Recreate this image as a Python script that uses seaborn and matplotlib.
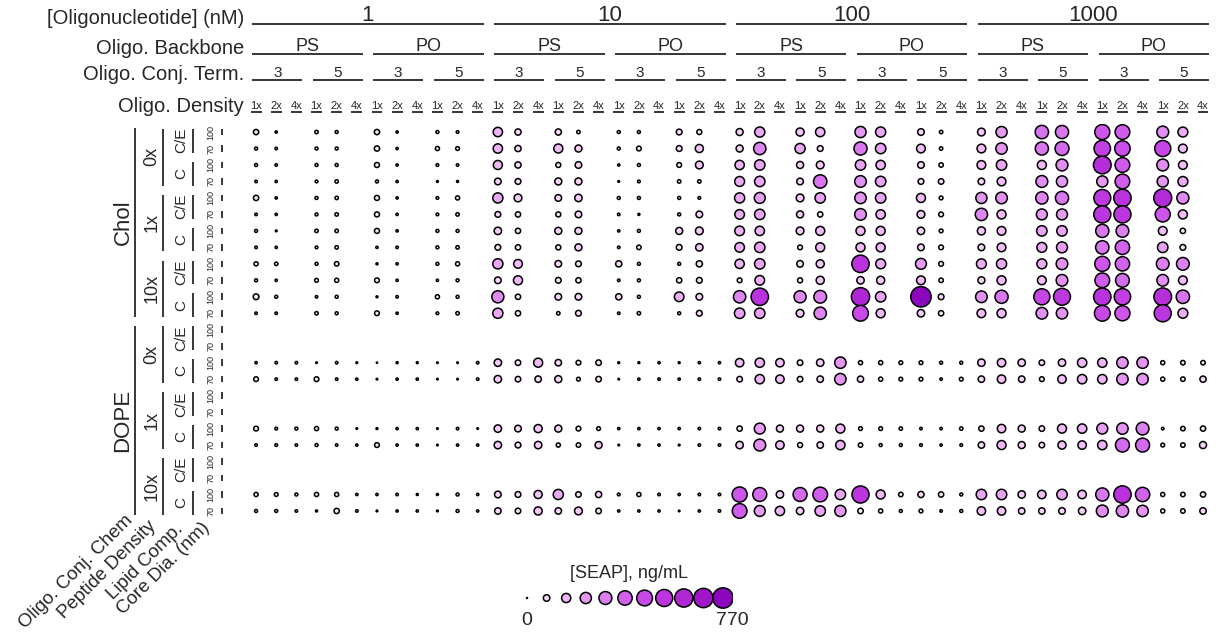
import pandas as pd
import seaborn as sns
import matplotlib.pyplot as plt
from matplotlib.colors import LinearSegmentedColormap

W, H = 1218, 634

concentrations = ["1", "10", "100", "1000"]
backbones = ["PS", "PO"]
conj_terms = ["3", "5"]
oligo_densities = ["1x", "2x", "4x"]
conj_chems = ["Chol", "DOPE"]
peptide_densities = ["0x", "1x", "10x"]
lipid_comps = ["C/E", "C"]
core_dias = ["100", "70"]

# Chol formulations, SEAP in ng/mL
# rows: 0x C/E 100, 0x C/E 70, 0x C 100, 0x C 70, 1x ..., 10x ...
# cols: PS-3 1x, PS-3 2x, PS-5 1x, PS-5 2x, PO-3 1x, PO-3 2x, PO-5 1x, PO-5 2x
chol_1nM = [
    [50, 8, 20, 15, 50, 8, 15, 12],
    [15, 10, 15, 15, 50, 8, 30, 25],
    [15, 10, 15, 15, 45, 8, 12, 10],
    [10, 8, 12, 20, 15, 8, 5, 6],
    [50, 8, 15, 20, 45, 8, 12, 30],
    [10, 8, 15, 20, 45, 8, 12, 20],
    [15, 4, 20, 20, 45, 8, 15, 15],
    [10, 8, 12, 20, 8, 10, 15, 20],
    [30, 20, 15, 35, 6, 8, 15, 30],
    [15, 8, 25, 30, 40, 8, 8, 15],
    [60, 15, 10, 15, 5, 10, 30, 15],
    [10, 10, 20, 15, 40, 8, 12, 20],
]
chol_10nM = [
    [160, 70, 70, 20, 15, 15, 60, 45],
    [160, 70, 150, 90, 15, 40, 60, 120],
    [150, 70, 45, 80, 8, 15, 40, 110],
    [80, 60, 90, 90, 4, 12, 20, 20],
    [190, 110, 80, 100, 15, 15, 15, 12],
    [60, 50, 45, 80, 10, 6, 15, 80],
    [100, 50, 90, 90, 8, 15, 90, 110],
    [60, 50, 45, 90, 10, 35, 60, 100],
    [190, 140, 80, 60, 70, 15, 15, 70],
    [80, 150, 60, 50, 10, 15, 50, 60],
    [270, 50, 80, 80, 70, 15, 170, 80],
    [190, 50, 20, 60, 10, 20, 15, 60],
]
chol_100nM = [
    [90, 190, 120, 160, 230, 190, 80, 20],
    [90, 280, 190, 60, 320, 200, 140, 20],
    [160, 200, 90, 110, 200, 160, 80, 35],
    [180, 200, 80, 330, 250, 200, 60, 55],
    [190, 220, 110, 200, 240, 200, 150, 25],
    [170, 200, 90, 50, 250, 160, 110, 40],
    [170, 160, 110, 150, 150, 150, 100, 25],
    [170, 200, 40, 150, 150, 150, 80, 40],
    [160, 200, 80, 120, 560, 180, 220, 40],
    [40, 170, 45, 120, 100, 120, 140, 35],
    [280, 560, 270, 300, 620, 200, 770, 60],
    [200, 200, 110, 280, 460, 150, 100, 50],
]
chol_1000nM = [
    [110, 230, 330, 320, 420, 400, 260, 180],
    [140, 240, 320, 360, 500, 440, 480, 140],
    [140, 200, 150, 260, 580, 400, 260, 140],
    [80, 140, 260, 230, 230, 400, 230, 180],
    [230, 250, 280, 320, 530, 560, 600, 270],
    [280, 150, 220, 220, 540, 540, 420, 150],
    [120, 140, 200, 200, 320, 300, 140, 50],
    [80, 140, 180, 220, 330, 380, 200, 60],
    [180, 190, 180, 250, 420, 380, 300, 300],
    [90, 150, 140, 250, 400, 350, 250, 140],
    [250, 320, 480, 530, 560, 500, 580, 330],
    [140, 150, 250, 240, 460, 420, 540, 180],
]

# DOPE formulations (lipid comp C only)
# rows: 0x 100, 0x 70, 1x 100, 1x 70, 10x 100, 10x 70
# cols: PS-3 1x 2x 4x, PS-5 ..., PO-3 ..., PO-5 ...
dope_1nM = [
    [8, 10, 10, 3, 10, 4, 1, 6, 5, 3, 3, 10],
    [40, 10, 10, 40, 10, 8, 3, 8, 8, 3, 3, 10],
    [40, 12, 15, 30, 15, 3, 5, 8, 8, 3, 10, 3],
    [10, 12, 10, 15, 10, 8, 40, 8, 8, 3, 8, 8],
    [30, 25, 15, 30, 30, 8, 8, 10, 6, 6, 15, 8],
    [15, 15, 10, 6, 50, 10, 4, 8, 8, 4, 15, 8],
]
dope_10nM = [
    [100, 55, 150, 75, 40, 55, 5, 5, 8, 5, 8, 8],
    [100, 55, 75, 90, 25, 55, 3, 8, 10, 8, 10, 10],
    [100, 80, 120, 90, 40, 25, 8, 8, 8, 8, 10, 10],
    [100, 60, 100, 30, 35, 90, 3, 8, 8, 4, 10, 10],
    [80, 60, 120, 190, 55, 70, 12, 30, 10, 8, 10, 10],
    [75, 55, 120, 75, 110, 55, 8, 8, 8, 3, 8, 10],
]
dope_100nM = [
    [130, 160, 130, 55, 100, 240, 30, 30, 25, 25, 15, 15],
    [55, 160, 130, 55, 75, 240, 70, 30, 25, 25, 10, 25],
    [50, 220, 90, 90, 90, 150, 25, 25, 20, 10, 10, 20],
    [100, 260, 130, 45, 75, 160, 35, 15, 15, 12, 8, 12],
    [420, 360, 100, 360, 400, 200, 540, 150, 35, 70, 50, 15],
    [400, 220, 160, 100, 200, 230, 55, 30, 15, 25, 10, 15],
]
dope_1000nM = [
    [100, 130, 100, 55, 100, 160, 160, 240, 240, 30, 35, 35],
    [75, 130, 75, 40, 130, 160, 160, 240, 240, 30, 35, 70],
    [50, 130, 90, 55, 150, 160, 220, 240, 300, 10, 35, 50],
    [75, 150, 90, 55, 120, 130, 160, 360, 360, 25, 35, 90],
    [200, 200, 100, 130, 200, 130, 320, 560, 380, 30, 35, 50],
    [130, 130, 75, 75, 80, 100, 260, 280, 240, 30, 35, 75],
]

legend_values = [0, 77, 154, 231, 308, 385, 462, 539, 616, 693, 770]
SEAP_MAX = 770

chol_tables = [chol_1nM, chol_10nM, chol_100nM, chol_1000nM]
dope_tables = [dope_1nM, dope_10nM, dope_100nM, dope_1000nM]


def build_frame():
    recs = []
    for ci, table in enumerate(chol_tables):
        for r, vals in enumerate(table):
            k = 0
            for bi in range(2):
                for ti in range(2):
                    for di in range(2):
                        col = ci * 12 + bi * 6 + ti * 3 + di
                        recs.append((col, r, vals[k]))
                        k += 1
    for ci, table in enumerate(dope_tables):
        for r, vals in enumerate(table):
            pep, dia = divmod(r, 2)
            row = 12 + pep * 4 + 2 + dia
            k = 0
            for bi in range(2):
                for ti in range(2):
                    for di in range(3):
                        col = ci * 12 + bi * 6 + ti * 3 + di
                        recs.append((col, row, vals[k]))
                        k += 1
    return pd.DataFrame(recs, columns=["col", "row", "seap"])


def fig_box(left, top, right, bottom):
    return [left / W, 1 - bottom / H, (right - left) / W, (bottom - top) / H]


def seg(ax, xs, ys):
    ax.plot(xs, ys, color="black", lw=1.1, clip_on=False,
            solid_capstyle="butt")


sns.set_style("white")
plt.rcParams["font.family"] = ["Liberation Sans", "DejaVu Sans"]

cmap = LinearSegmentedColormap.from_list(
    "seap", ["#fff4ff", "#f2c8f6", "#e59cf1", "#d874ee", "#ca4ee9",
             "#bb34de", "#a91fd0", "#8b06bd"])
point_kw = dict(hue="seap", size="seap", palette=cmap,
                hue_norm=(0, SEAP_MAX), sizes=(0.5, 215),
                size_norm=(0, SEAP_MAX), edgecolor="black",
                linewidth=1.1, legend=False)

df = build_frame()

fig = plt.figure(figsize=(W / 100, H / 100), dpi=100)
ax = fig.add_axes(fig_box(246, 123.8, 1213.1, 519.2))
sns.scatterplot(data=df, x="col", y="row", ax=ax, **point_kw)
ax.set_xlim(-0.5, 47.5)
ax.set_ylim(23.5, -0.5)
ax.axis("off")

# column headers
lab_x = -0.6
level_names = ["[Oligonucleotide] (nM)", "Oligo. Backbone",
               "Oligo. Conj. Term.", "Oligo. Density"]
line_y = [-6.55, -4.73, -3.16, -1.21]
for name, y in zip(level_names, line_y):
    ax.text(lab_x, y, name, ha="right", va="baseline", fontsize=14.5)

for ci, conc in enumerate(concentrations):
    c0 = ci * 12
    seg(ax, [c0 - 0.18, c0 + 11.3], [line_y[0]] * 2)
    ax.text(c0 + 5.55, line_y[0] - 0.2, conc, ha="center", va="baseline",
            fontsize=16)
    for bi, bb in enumerate(backbones):
        b0 = c0 + bi * 6
        seg(ax, [b0 - 0.18, b0 + 5.3], [line_y[1]] * 2)
        ax.text(b0 + 2.55, line_y[1] - 0.2, bb, ha="center", va="baseline",
                fontsize=13)
        for ti, term in enumerate(conj_terms):
            t0 = b0 + ti * 3
            seg(ax, [t0 - 0.18, t0 + 2.3], [line_y[2]] * 2)
            ax.text(t0 + 1.05, line_y[2] - 0.18, term, ha="center",
                    va="baseline", fontsize=11)
            for di, dens in enumerate(oligo_densities):
                c = t0 + di
                seg(ax, [c - 0.27, c + 0.27], [line_y[3]] * 2)
                ax.text(c, line_y[3] - 0.17, dens, ha="center",
                        va="baseline", fontsize=8)

# row headers
row_line_x = [-6.0, -4.62, -3.13, -1.69]
row_text_x = [-6.6, -5.16, -3.72, -2.23]
for hi, chem in enumerate(conj_chems):
    r0 = hi * 12
    seg(ax, [row_line_x[0]] * 2, [r0 - 0.25, r0 + 11.25])
    ax.text(row_text_x[0], r0 + 5.5, chem, rotation=90, ha="center",
            va="center", fontsize=16)
    for pi, pep in enumerate(peptide_densities):
        p0 = r0 + pi * 4
        seg(ax, [row_line_x[1]] * 2, [p0 - 0.2, p0 + 3.25])
        ax.text(row_text_x[1], p0 + 1.5, pep, rotation=90, ha="center",
                va="center", fontsize=13)
        for li, lip in enumerate(lipid_comps):
            l0 = p0 + li * 2
            seg(ax, [row_line_x[2]] * 2, [l0 - 0.2, l0 + 1.25])
            ax.text(row_text_x[2], l0 + 0.5, lip, rotation=90, ha="center",
                    va="center", fontsize=11)
            for di, dia in enumerate(core_dias):
                r = l0 + di
                seg(ax, [row_line_x[3]] * 2, [r - 0.2, r + 0.2])
                ax.text(row_text_x[3], r, dia, rotation=90, ha="center",
                        va="center", fontsize=6.5)

# diagonal names of the row levels, anchored at the end of their baseline
row_level_names = ["Oligo. Conj. Chem", "Peptide Density", "Lipid Comp.",
                   "Core Dia. (nm)"]
row_level_anchor = [(-6.1, 23.6), (-4.95, 23.95), (-3.6, 24.15),
                    (-2.3, 24.05)]
for name, (x, y) in zip(row_level_names, row_level_anchor):
    ax.text(x, y, name, rotation=45, rotation_mode="anchor",
            ha="right", va="baseline", fontsize=13.5)

# size / colour legend
lax = fig.add_axes(fig_box(517.2, 583, 732.8, 613))
leg = pd.DataFrame({"pos": range(len(legend_values)), "y": 0,
                    "seap": legend_values})
sns.scatterplot(data=leg, x="pos", y="y", ax=lax, **point_kw)
lax.set_xlim(-0.5, len(legend_values) - 0.5)
lax.set_ylim(-1, 1)
lax.axis("off")
lax.text(5.2, 1.6, "[SEAP], ng/mL", ha="center", va="center", fontsize=13)
lax.text(0, -1.5, str(legend_values[0]), ha="center", va="center",
         fontsize=14)
lax.text(10.45, -1.5, str(legend_values[-1]), ha="center", va="center",
         fontsize=14)

fig.savefig("out.png", dpi=100)
